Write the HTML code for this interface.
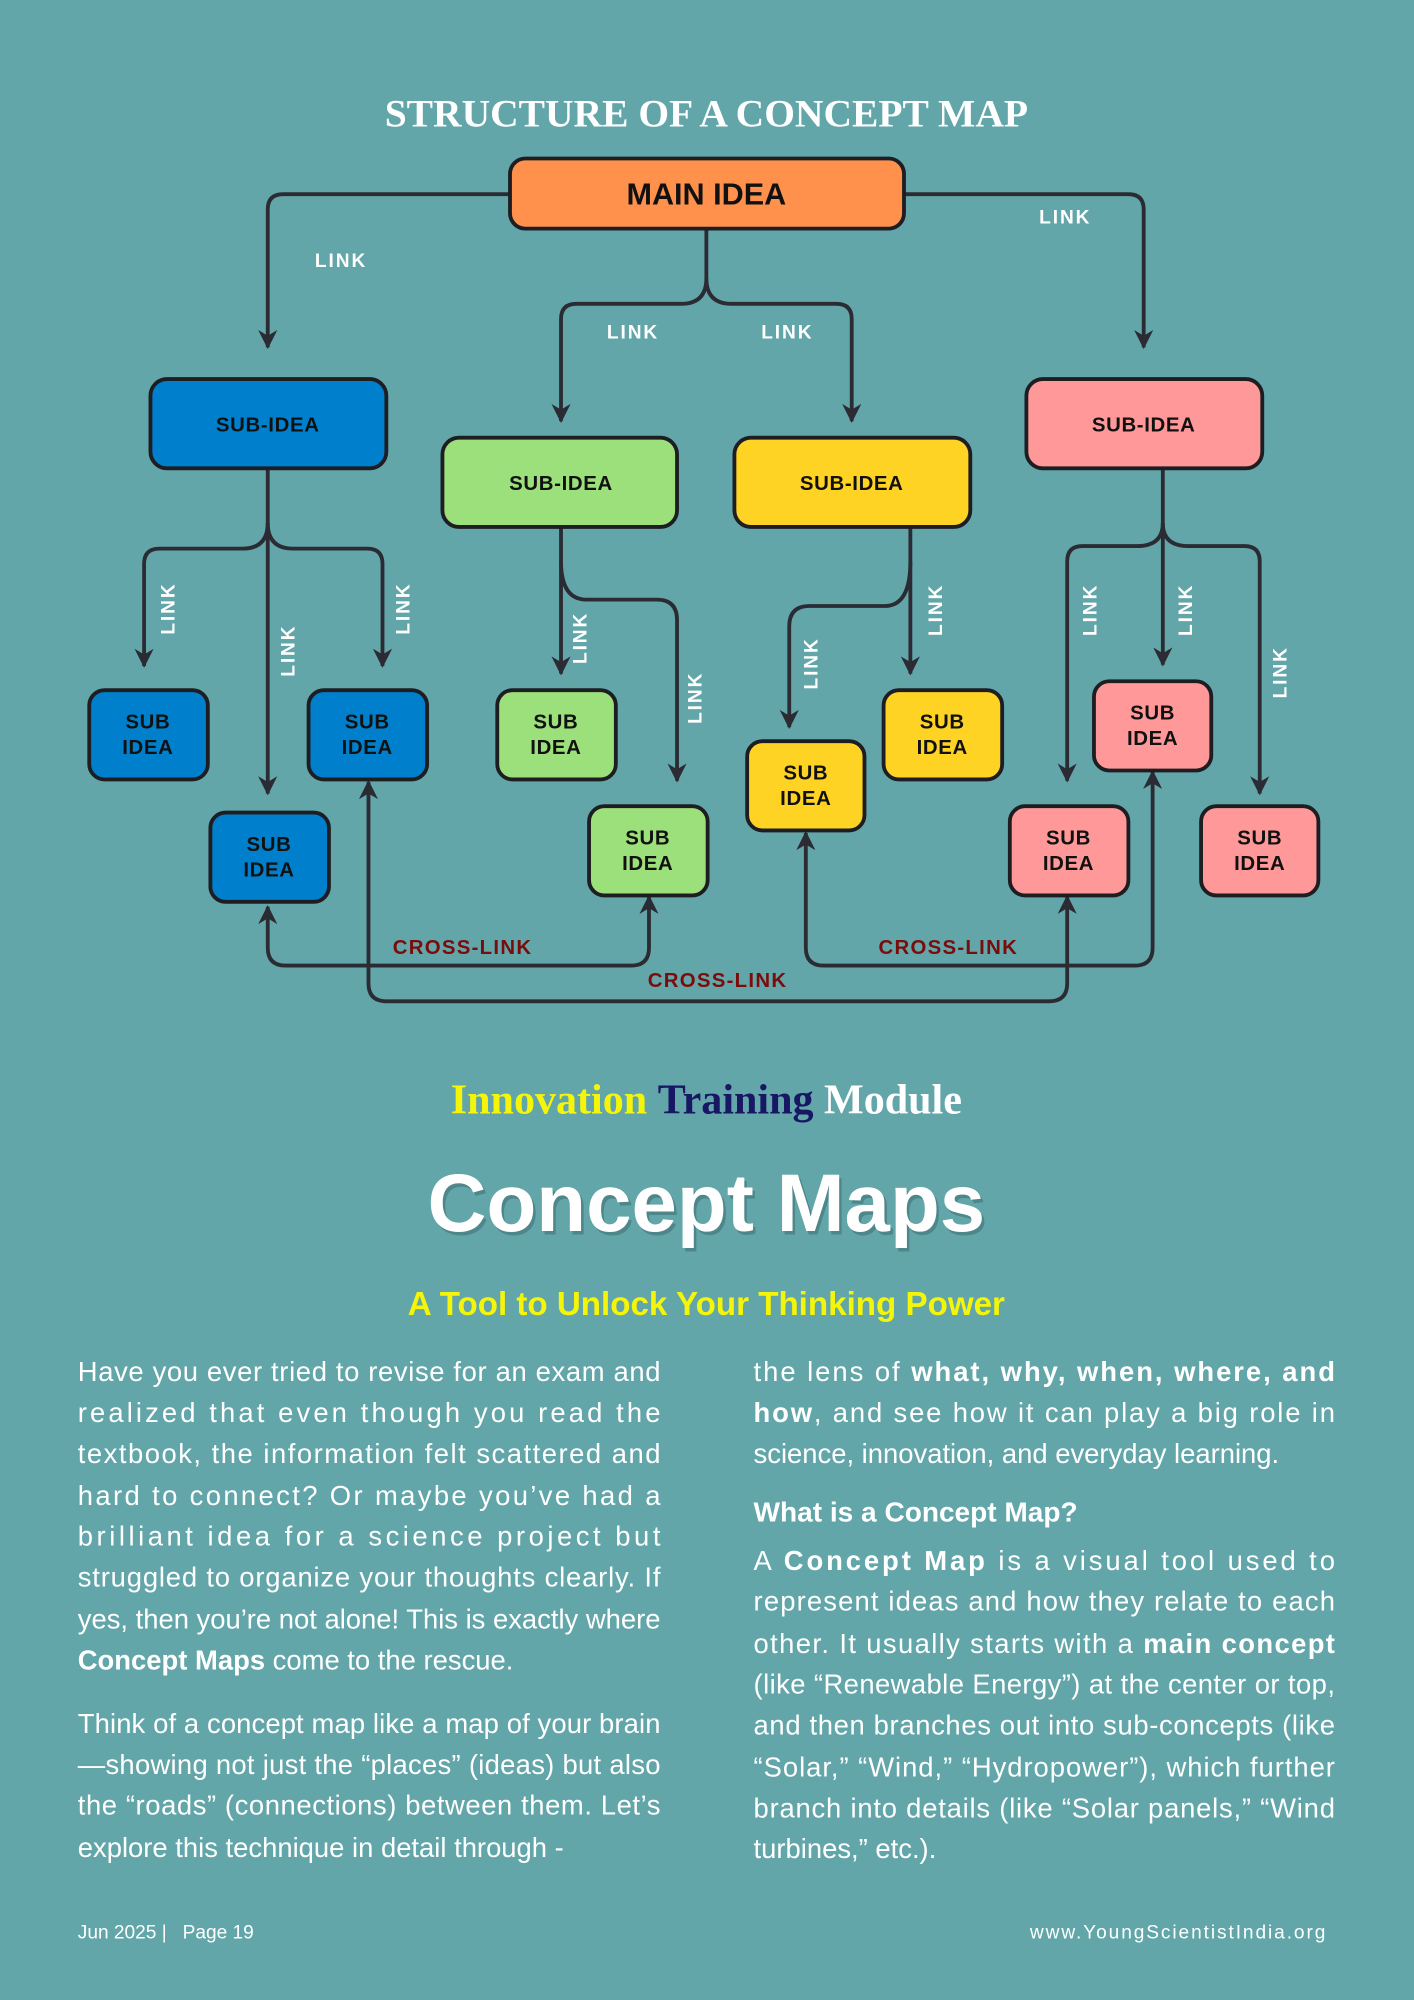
<!DOCTYPE html>
<html><head><meta charset="utf-8"><style>
html,body{margin:0;padding:0;background:#62a6aa;}
svg{display:block}
.b{font-family:"Liberation Sans",sans-serif;font-size:21.5px;fill:#fff}
.lk{font-family:"Liberation Sans",sans-serif;font-weight:bold;font-size:15px;fill:#fff;letter-spacing:1.5px}
.bx{stroke:#1d1d22;stroke-width:3}
.bt{font-family:"Liberation Sans",sans-serif;font-weight:bold;font-size:16px;fill:#111;text-anchor:middle;letter-spacing:.5px}
.cl{font-family:"Liberation Sans",sans-serif;font-weight:bold;font-size:16px;fill:#7a0c0c;letter-spacing:1px}
.ln{fill:none;stroke:#2b2b33;stroke-width:3}
</style></head><body>
<svg width="1414" height="2000" viewBox="0 0 1109 1568" xmlns="http://www.w3.org/2000/svg">
<defs>
<marker id="a" viewBox="0 0 10 10" refX="9" refY="5" markerWidth="5" markerHeight="5" orient="auto-start-reverse"><path d="M0,0 L10,5 L0,10 L3,5z" fill="#2b2b33"/></marker>
</defs>
<rect width="1109" height="1568" fill="#62a6aa"/>
<text x="554" y="99" text-anchor="middle" font-family="Liberation Serif,serif" font-weight="bold" font-size="31" fill="#fff">STRUCTURE OF A CONCEPT MAP</text>

<g class="ln">
<path d="M400,152 H222 Q210,152 210,164 V272" marker-end="url(#a)"/>
<path d="M709,152 H885 Q897,152 897,164 V272" marker-end="url(#a)"/>
<path d="M554,179 V218 Q554,238 534,238 H452 Q440,238 440,250 V330" marker-end="url(#a)"/>
<path d="M554,218 Q554,238 574,238 H656 Q668,238 668,250 V330" marker-end="url(#a)"/>
<path d="M210,367 V622" marker-end="url(#a)"/>
<path d="M210,410 Q210,430 190,430 H125 Q113,430 113,442 V522" marker-end="url(#a)"/>
<path d="M210,410 Q210,430 230,430 H288 Q300,430 300,442 V522" marker-end="url(#a)"/>
<path d="M440,413 V528" marker-end="url(#a)"/>
<path d="M440,440 Q440,470 460,470 H515 Q531,470 531,486 V612" marker-end="url(#a)"/>
<path d="M714,413 V528" marker-end="url(#a)"/>
<path d="M714,440 Q714,475 694,475 H635 Q619,475 619,491 V570" marker-end="url(#a)"/>
<path d="M912,367 V521" marker-end="url(#a)"/>
<path d="M912,410 Q912,428 892,428 H849 Q837,428 837,440 V612" marker-end="url(#a)"/>
<path d="M912,410 Q912,428 932,428 H976 Q988,428 988,440 V622" marker-end="url(#a)"/>
<path d="M210,711 V743 Q210,757 224,757 H495 Q509,757 509,743 V703" marker-start="url(#a)" marker-end="url(#a)"/>
<path d="M289,613 V771 Q289,785 303,785 H823 Q837,785 837,771 V703" marker-start="url(#a)" marker-end="url(#a)"/>
<path d="M632,653 V743 Q632,757 646,757 H890 Q904,757 904,743 V605" marker-start="url(#a)" marker-end="url(#a)"/>
</g>

<rect class="bx" x="400" y="124" width="309" height="55" rx="12" fill="#ff914d"/>
<text x="554" y="160" text-anchor="middle" font-family="Liberation Sans,sans-serif" font-weight="bold" font-size="24" fill="#111">MAIN IDEA</text>

<rect class="bx" x="118" y="297" width="185" height="70" rx="13" fill="#0080cc"/>
<text class="bt" x="210" y="338">SUB-IDEA</text>
<rect class="bx" x="347" y="343" width="184" height="70" rx="13" fill="#9be07a"/>
<text class="bt" x="440" y="384">SUB-IDEA</text>
<rect class="bx" x="576" y="343" width="185" height="70" rx="13" fill="#ffd324"/>
<text class="bt" x="668" y="384">SUB-IDEA</text>
<rect class="bx" x="805" y="297" width="185" height="70" rx="13" fill="#ff9999"/>
<text class="bt" x="897" y="338">SUB-IDEA</text>

<g>
<rect class="bx" x="70" y="541" width="93" height="70" rx="12" fill="#0080cc"/><text class="bt" x="116" y="571">SUB</text><text class="bt" x="116" y="591">IDEA</text>
<rect class="bx" x="242" y="541" width="93" height="70" rx="12" fill="#0080cc"/><text class="bt" x="288" y="571">SUB</text><text class="bt" x="288" y="591">IDEA</text>
<rect class="bx" x="165" y="637" width="93" height="70" rx="12" fill="#0080cc"/><text class="bt" x="211" y="667">SUB</text><text class="bt" x="211" y="687">IDEA</text>
<rect class="bx" x="390" y="541" width="93" height="70" rx="12" fill="#9be07a"/><text class="bt" x="436" y="571">SUB</text><text class="bt" x="436" y="591">IDEA</text>
<rect class="bx" x="462" y="632" width="93" height="70" rx="12" fill="#9be07a"/><text class="bt" x="508" y="662">SUB</text><text class="bt" x="508" y="682">IDEA</text>
<rect class="bx" x="586" y="581" width="92" height="70" rx="12" fill="#ffd324"/><text class="bt" x="632" y="611">SUB</text><text class="bt" x="632" y="631">IDEA</text>
<rect class="bx" x="693" y="541" width="93" height="70" rx="12" fill="#ffd324"/><text class="bt" x="739" y="571">SUB</text><text class="bt" x="739" y="591">IDEA</text>
<rect class="bx" x="858" y="534" width="92" height="70" rx="12" fill="#ff9999"/><text class="bt" x="904" y="564">SUB</text><text class="bt" x="904" y="584">IDEA</text>
<rect class="bx" x="792" y="632" width="93" height="70" rx="12" fill="#ff9999"/><text class="bt" x="838" y="662">SUB</text><text class="bt" x="838" y="682">IDEA</text>
<rect class="bx" x="942" y="632" width="92" height="70" rx="12" fill="#ff9999"/><text class="bt" x="988" y="662">SUB</text><text class="bt" x="988" y="682">IDEA</text>
</g>

<text class="lk" x="247" y="209">LINK</text>
<text class="lk" x="815" y="175">LINK</text>
<text class="lk" x="476" y="265">LINK</text>
<text class="lk" x="597" y="265">LINK</text>
<g class="lk" text-anchor="middle">
<text transform="translate(137,477) rotate(-90)">LINK</text>
<text transform="translate(231,510) rotate(-90)">LINK</text>
<text transform="translate(321,477) rotate(-90)">LINK</text>
<text transform="translate(460,500) rotate(-90)">LINK</text>
<text transform="translate(550,547) rotate(-90)">LINK</text>
<text transform="translate(641,520) rotate(-90)">LINK</text>
<text transform="translate(739,478) rotate(-90)">LINK</text>
<text transform="translate(860,478) rotate(-90)">LINK</text>
<text transform="translate(935,478) rotate(-90)">LINK</text>
<text transform="translate(1009,527) rotate(-90)">LINK</text>
</g>
<text class="cl" x="308" y="748">CROSS-LINK</text>
<text class="cl" x="689" y="748">CROSS-LINK</text>
<text class="cl" x="508" y="774">CROSS-LINK</text>

<text x="554" y="873" text-anchor="middle" font-family="Liberation Serif,serif" font-weight="bold" font-size="33"><tspan fill="#f5f50a">Innovation</tspan> <tspan fill="#171763">Training</tspan> <tspan fill="#fff">Module</tspan></text>
<text x="556" y="968" text-anchor="middle" font-family="Liberation Sans,sans-serif" font-weight="bold" font-size="64" fill="#3a6a6c" opacity=".5">Concept Maps</text>
<text x="554" y="965" text-anchor="middle" font-family="Liberation Sans,sans-serif" font-weight="bold" font-size="64" fill="#fff">Concept Maps</text>
<text x="554" y="1031" text-anchor="middle" font-family="Liberation Sans,sans-serif" font-weight="bold" font-size="26" fill="#f5f50a">A Tool to Unlock Your Thinking Power</text>

<g class="b">
<text x="61" y="1083" textLength="457" lengthAdjust="spacing">Have you ever tried to revise for an exam and</text>
<text x="61" y="1115" textLength="457" lengthAdjust="spacing">realized that even though you read the</text>
<text x="61" y="1147" textLength="457" lengthAdjust="spacing">textbook, the information felt scattered and</text>
<text x="61" y="1180" textLength="457" lengthAdjust="spacing">hard to connect? Or maybe you’ve had a</text>
<text x="61" y="1212" textLength="457" lengthAdjust="spacing">brilliant idea for a science project but</text>
<text x="61" y="1244" textLength="457" lengthAdjust="spacing">struggled to organize your thoughts clearly. If</text>
<text x="61" y="1277" textLength="457" lengthAdjust="spacing">yes, then you’re not alone! This is exactly where</text>
<text x="61" y="1309"><tspan font-weight="bold">Concept Maps</tspan> come to the rescue.</text>
<text x="61" y="1359" textLength="457" lengthAdjust="spacing">Think of a concept map like a map of your brain</text>
<text x="61" y="1391" textLength="457" lengthAdjust="spacing">—showing not just the “places” (ideas) but also</text>
<text x="61" y="1423" textLength="457" lengthAdjust="spacing">the “roads” (connections) between them. Let’s</text>
<text x="61" y="1456">explore this technique in detail through -</text>

<text x="591" y="1083" textLength="456" lengthAdjust="spacing">the lens of <tspan font-weight="bold">what, why, when, where, and</tspan></text>
<text x="591" y="1115" textLength="456" lengthAdjust="spacing"><tspan font-weight="bold">how</tspan>, and see how it can play a big role in</text>
<text x="591" y="1147">science, innovation, and everyday learning.</text>
<text x="591" y="1193" font-weight="bold" font-size="22">What is a Concept Map?</text>
<text x="591" y="1231" textLength="456" lengthAdjust="spacing">A <tspan font-weight="bold">Concept Map</tspan> is a visual tool used to</text>
<text x="591" y="1263" textLength="456" lengthAdjust="spacing">represent ideas and how they relate to each</text>
<text x="591" y="1296" textLength="456" lengthAdjust="spacing">other. It usually starts with a <tspan font-weight="bold">main concept</tspan></text>
<text x="591" y="1328" textLength="456" lengthAdjust="spacing">(like “Renewable Energy”) at the center or top,</text>
<text x="591" y="1360" textLength="456" lengthAdjust="spacing">and then branches out into sub-concepts (like</text>
<text x="591" y="1393" textLength="456" lengthAdjust="spacing">“Solar,” “Wind,” “Hydropower”), which further</text>
<text x="591" y="1425" textLength="456" lengthAdjust="spacing">branch into details (like “Solar panels,” “Wind</text>
<text x="591" y="1457">turbines,” etc.).</text>
</g>
<text x="61" y="1520" font-family="Liberation Sans,sans-serif" font-size="15" fill="#fff" xml:space="preserve">Jun 2025 |   Page 19</text>
<text x="1041" y="1520" text-anchor="end" font-family="Liberation Sans,sans-serif" font-size="15" fill="#fff" letter-spacing="1.5">www.YoungScientistIndia.org</text>
</svg>
</body></html>
